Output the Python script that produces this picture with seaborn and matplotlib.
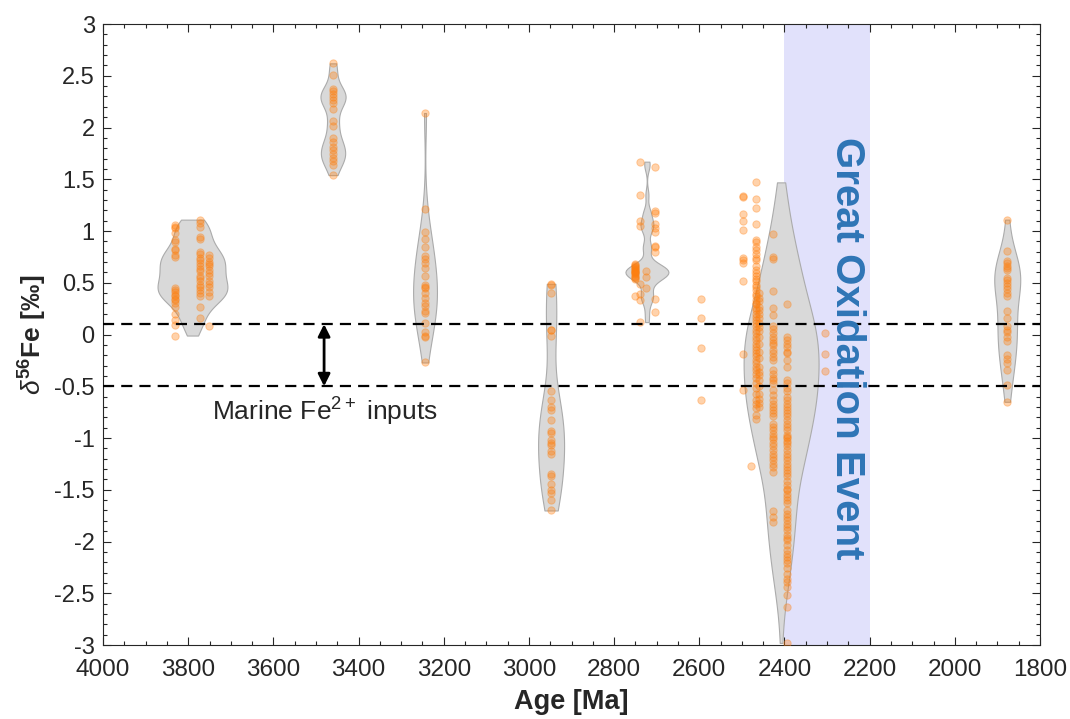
import matplotlib
matplotlib.use('Agg')
import matplotlib.pyplot as plt
from matplotlib.ticker import MultipleLocator
import pandas as pd
import seaborn as sns

# values (age in Ma, d56Fe in permil)
# group 1 (~3790 Ma)
g1_a_age, g1_a = 3830, [1.06, 1.04, 1.03, 0.98, 0.91, 0.89, 0.83, 0.82, 0.77, 0.75, 0.45, 0.43,
                        0.41, 0.38, 0.37, 0.34, 0.33, 0.30, 0.27, 0.20, 0.14, 0.09, -0.01]
g1_b_age, g1_b = 3772, [1.11, 1.08, 1.04, 0.94, 0.92, 0.80, 0.78, 0.74, 0.72, 0.69, 0.66, 0.63,
                        0.61, 0.57, 0.55, 0.52, 0.48, 0.46, 0.43, 0.40, 0.37, 0.27, 0.16]
g1_c_age, g1_c = 3752, [0.77, 0.74, 0.70, 0.68, 0.66, 0.62, 0.59, 0.57, 0.52, 0.49, 0.46, 0.41,
                        0.37, 0.08]
# group 2 (~3460 Ma)
g2_age, g2 = 3460, [2.62, 2.51, 2.37, 2.35, 2.32, 2.29, 2.27, 2.24, 2.18, 2.06, 2.01, 1.90,
                    1.86, 1.81, 1.78, 1.74, 1.71, 1.68, 1.64, 1.54]
# group 3 (~3244 Ma)
g3_age, g3 = 3244, [2.14, 1.21, 0.99, 0.92, 0.85, 0.76, 0.73, 0.69, 0.64, 0.57, 0.48, 0.46,
                    0.45, 0.40, 0.35, 0.30, 0.28, 0.23, 0.21, 0.11, 0.02, -0.01, -0.02, -0.27]
# group 4 (~2948 Ma)
g4_age, g4 = 2948, [0.49, 0.48, 0.40, 0.04, 0.04, -0.01, -0.55, -0.63, -0.70, -0.73, -0.83,
                    -0.93, -0.95, -1.02, -1.05, -1.07, -1.13, -1.15, -1.35, -1.37, -1.44,
                    -1.50, -1.53, -1.60, -1.70]
# group 5 (~2723 Ma)
g5_a_age, g5_a = 2740, [1.67, 1.35, 1.10, 1.05, 0.49, 0.39, 0.33, 0.12]
g5_b_age, g5_b = 2750, [0.68, 0.67, 0.66, 0.65, 0.64, 0.63, 0.62, 0.61, 0.60, 0.60, 0.59,
                        0.58, 0.57, 0.56, 0.55, 0.54, 0.37]
g5_c_age, g5_c = 2725, [0.61, 0.56, 0.45]
g5_d_age, g5_d = 2705, [1.62, 1.19, 1.17, 1.07, 1.03, 0.99, 0.86, 0.85, 0.80, 0.34, 0.22]
# isolated points near 2600 Ma
g_2600_age, g_2600 = 2596, [0.34, 0.16, -0.13, -0.63]
# group 6 (~2408 Ma)
g6_a_age, g6_a = 2498, [1.34, 1.33, 1.16, 1.10, 1.01, 0.74, 0.72, 0.69, 0.52, -0.19, -0.54]
g6_a2_age, g6_a2 = 2478, [-1.27]
g6_b_age, g6_b = 2467, [1.47, 1.31, 1.22, 1.07, 0.91, 0.89, 0.85, 0.82, 0.78, 0.74, 0.72,
                        0.66, 0.62, 0.59, 0.57, 0.54, 0.52, 0.48, 0.46, 0.43, 0.39, 0.37,
                        0.33, 0.30, 0.29, 0.26, 0.24, 0.20, 0.17, 0.14, 0.11, 0.08, 0.04,
                        0.01, -0.02, -0.05, -0.09, -0.12, -0.15, -0.18, -0.21, -0.25,
                        -0.28, -0.31, -0.34, -0.38, -0.42, -0.47, -0.52, -0.57, -0.63,
                        -0.67, -0.71, -0.78, -0.82]
g6_c_age, g6_c = 2459, [0.40, 0.35, 0.32, 0.27, 0.24, 0.20, 0.16, 0.11, 0.07, 0.03, -0.02,
                        -0.09, -0.17, -0.23, -0.31, -0.36, -0.39, -0.44, -0.50, -0.57,
                        -0.62, -0.66, -0.70]
g6_d_age, g6_d = 2427, [0.97, 0.75, 0.73, 0.42, 0.26, 0.19, 0.08, 0.05, 0.01, -0.02, -0.05,
                        -0.08, -0.10, -0.15, -0.18, -0.22, -0.25, -0.34, -0.38, -0.42,
                        -0.44, -0.47, -0.54, -0.58, -0.63, -0.67, -0.70, -0.73, -0.76,
                        -0.79, -0.86, -0.89, -0.92, -0.96, -0.99, -1.01, -1.05, -1.08,
                        -1.12, -1.15, -1.18, -1.21, -1.25, -1.28, -1.33, -1.71, -1.76, -1.81]
g6_e_age, g6_e = 2393, [0.29, -0.02, -0.05, -0.09, -0.12, -0.17, -0.18, -0.25, -0.31, -0.44,
                        -0.47, -0.52, -0.55, -0.60, -0.63, -0.67, -0.70, -0.73, -0.76,
                        -0.79, -0.83, -0.86, -0.89, -0.92, -0.97, -0.99, -1.00, -1.03,
                        -1.05, -1.08, -1.12, -1.15, -1.18, -1.21, -1.25, -1.28, -1.31,
                        -1.34, -1.37, -1.42, -1.45, -1.49, -1.50, -1.54, -1.57, -1.60,
                        -1.63, -1.70, -1.73, -1.76, -1.79, -1.83, -1.86, -1.89, -1.94,
                        -1.97, -1.99, -2.03, -2.08, -2.12, -2.15, -2.18, -2.21, -2.26,
                        -2.31, -2.36, -2.39, -2.44, -2.52, -2.63, -2.98]
# points inside the GOE band
g_2305_age, g_2305 = 2305, [0.01, -0.19, -0.35]
# group 7 (~1877 Ma)
g7_age, g7 = 1877, [1.11, 0.81, 0.71, 0.69, 0.66, 0.64, 0.62, 0.55, 0.53, 0.50, 0.47, 0.44,
                    0.40, 0.37, 0.23, 0.16, 0.08, 0.04, 0.02, -0.02, -0.06, -0.20, -0.24,
                    -0.28, -0.34, -0.49, -0.65]

columns = [(g1_a_age, g1_a), (g1_b_age, g1_b), (g1_c_age, g1_c), (g2_age, g2), (g3_age, g3),
           (g4_age, g4), (g5_a_age, g5_a), (g5_b_age, g5_b), (g5_c_age, g5_c),
           (g5_d_age, g5_d), (g_2600_age, g_2600), (g6_a_age, g6_a), (g6_a2_age, g6_a2),
           (g6_b_age, g6_b), (g6_c_age, g6_c), (g6_d_age, g6_d), (g6_e_age, g6_e),
           (g_2305_age, g_2305), (g7_age, g7)]
pts = pd.DataFrame({'age': [a for a, v in columns for _ in v],
                    'd56Fe': [x for a, v in columns for x in v]})

# violins: centre age and the values they summarise
violin_pos = [3790, 3460, 3244, 2948, 2723, 2408, 1877]
violin_vals = [g1_a + g1_b + g1_c, g2, g3, g4, g5_a + g5_b + g5_c + g5_d,
               g6_a + g6_a2 + g6_b + g6_c + g6_d + g6_e, g7]
violin_width = [164, 59, 56, 61, 101, 176, 61]
violin_bw = [0.85, 0.5, 0.9, 0.8, 0.35, 0.9, 0.9]

ytick_vals = [-3, -2.5, -2, -1.5, -1, -0.5, 0, 0.5, 1, 1.5, 2, 2.5, 3]
ytick_labels = ['-3', '-2.5', '-2', '-1.5', '-1', '-0.5', '0', '0.5', '1', '1.5', '2', '2.5', '3']
xtick_vals = [4000, 3800, 3600, 3400, 3200, 3000, 2800, 2600, 2400, 2200, 2000, 1800]

sns.set_style('ticks')
plt.rcParams['font.family'] = ['Liberation Sans', 'DejaVu Sans']
plt.rcParams['mathtext.fontset'] = 'custom'
plt.rcParams['mathtext.rm'] = 'Liberation Sans'
plt.rcParams['mathtext.it'] = 'Liberation Sans:italic'
plt.rcParams['mathtext.bf'] = 'Liberation Sans:bold'
plt.rcParams['axes.unicode_minus'] = False

fig = plt.figure(figsize=(10.7, 7.19), dpi=100)
ax = fig.add_axes([0.0963, 0.1029, 0.8757, 0.8637])

ax.axvspan(2400, 2200, color='#e1e1fb', lw=0, zorder=0)

for pos, vals, w, bw in zip(violin_pos, violin_vals, violin_width, violin_bw):
    sns.violinplot(x=[pos] * len(vals), y=vals, native_scale=True, orient='x', width=w,
                   bw_adjust=bw, cut=0, inner=None, density_norm='width', color='#d9d9d9',
                   saturation=1, linecolor='#ababab', linewidth=0.8, ax=ax, zorder=1)

sns.scatterplot(data=pts, x='age', y='d56Fe', color='#ff7f0e', alpha=0.35, s=28,
                edgecolor='#ff7f0e', linewidth=0.7, legend=False, ax=ax, zorder=3)

for yv in [0.1, -0.5]:
    ax.axhline(yv, color='k', lw=1.6, ls=(0, (5, 3.2)), zorder=4)

ax.annotate('', xy=(3481, -0.5), xytext=(3481, 0.1),
            arrowprops=dict(arrowstyle='<|-|>', color='k', lw=2, mutation_scale=18,
                            shrinkA=0, shrinkB=0), zorder=5)
ax.text(3744, -0.75, 'Marine Fe$^{2+}$ inputs', fontsize=19, ha='left', va='center', zorder=5)
ax.text(2253, -0.13, 'Great Oxidation Event', rotation=-90, fontsize=29, fontweight='bold',
        color='#2e75b6', ha='center', va='center', zorder=5)

ax.set_xlim(4000, 1800)
ax.set_ylim(-3, 3)
ax.set_xticks(xtick_vals)
ax.set_xticklabels([str(v) for v in xtick_vals], fontsize=17.5)
ax.set_yticks(ytick_vals)
ax.set_yticklabels(ytick_labels, fontsize=17)
ax.xaxis.set_minor_locator(MultipleLocator(50))
ax.yaxis.set_minor_locator(MultipleLocator(0.1))
ax.tick_params(which='both', direction='in', top=True, right=True, width=0.8, colors='#262626')
ax.tick_params(which='major', length=6, pad=6)
ax.tick_params(axis='x', which='major', pad=10)
ax.tick_params(which='minor', length=3)
for sp in ax.spines.values():
    sp.set_linewidth(0.8)
    sp.set_color('#262626')

ax.set_xlabel('Age [Ma]', fontsize=19.5, fontweight='bold', labelpad=6)
ax.set_ylabel(r'$\mathit{\delta}^{\mathbf{56}}$Fe [‰]', fontsize=19, fontweight='bold', labelpad=4)

fig.savefig('out.png', dpi=100)
